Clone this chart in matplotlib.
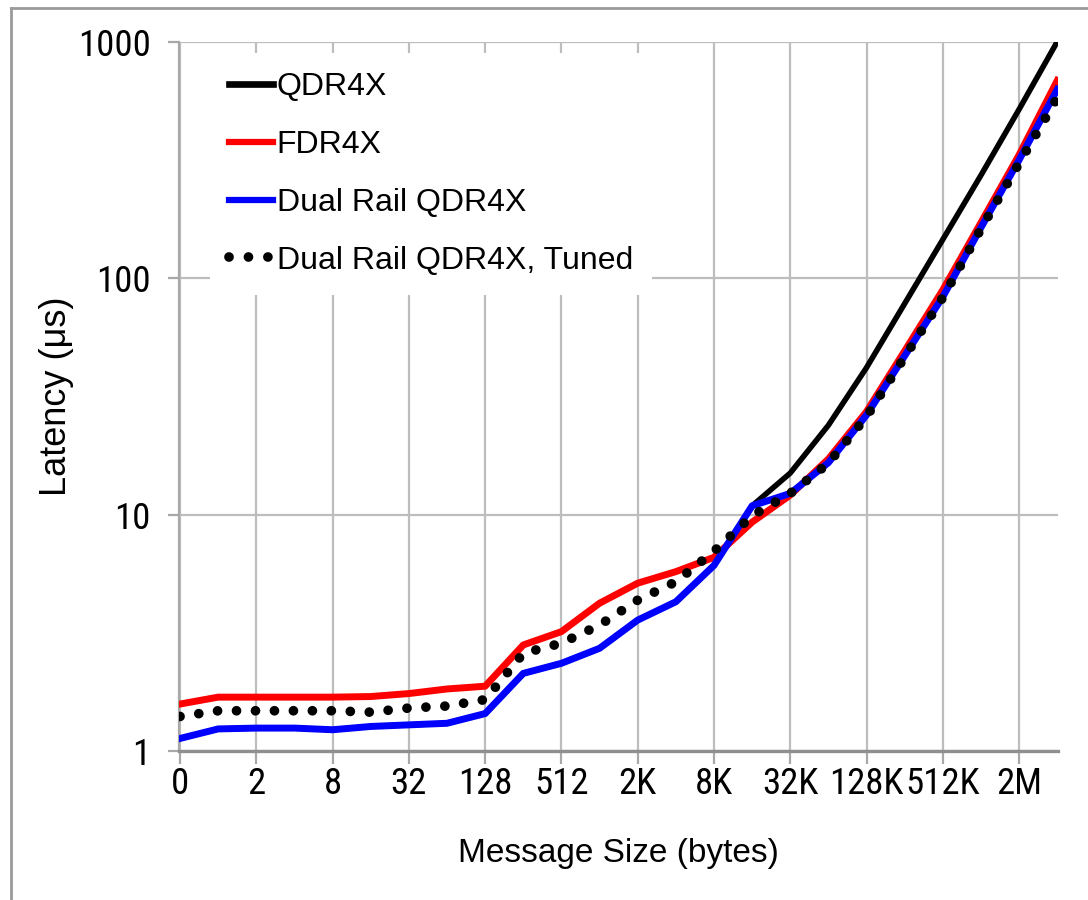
import matplotlib
matplotlib.use("Agg")
import matplotlib.pyplot as plt
from matplotlib.lines import Line2D
from matplotlib import font_manager as fm

# Message sizes (bytes) and measured latency (us)
sizes = ['0', '1', '2', '4', '8', '16', '32', '64', '128', '256', '512', '1K',
         '2K', '4K', '8K', '16K', '32K', '64K', '128K', '256K', '512K', '1M',
         '2M', '4M']

qdr4x = [1.13, 1.24, 1.25, 1.25, 1.23, 1.27, 1.29, 1.31, 1.44, 2.13, 2.35, 2.72,
         3.58, 4.28, 6.1, 10.9, 15.0, 23.9, 41.9, 78.2, 146, 273, 519, 1003]
fdr4x = [1.58, 1.69, 1.69, 1.69, 1.69, 1.70, 1.75, 1.83, 1.88, 2.81, 3.20, 4.22,
         5.13, 5.74, 6.6, 9.3, 12.1, 17.2, 27.3, 49.3, 89.3, 172, 333, 687]
dual_rail = [1.13, 1.24, 1.25, 1.25, 1.23, 1.27, 1.29, 1.31, 1.44, 2.13, 2.35, 2.72,
             3.58, 4.28, 6.1, 10.9, 12.3, 16.6, 26.4, 47.0, 83.5, 164, 317, 630]
dual_rail_tuned = [1.40, 1.48, 1.48, 1.48, 1.48, 1.46, 1.52, 1.55, 1.65, 2.59, 2.86,
                   3.41, 4.35, 5.20, 7.0, 9.9, 12.3, 16.5, 26.0, 46.5, 83.0, 162,
                   307, 580]

series_names = ['QDR4X', 'FDR4X', 'Dual Rail QDR4X', 'Dual Rail QDR4X, Tuned']

SANS = ['Liberation Sans', 'DejaVu Sans']
plt.rcParams['font.family'] = SANS


def narrow_font(size):
    """Pick a condensed sans face for the tick labels if one is installed."""
    entries = fm.fontManager.ttflist
    for name in ('Liberation Sans Narrow', 'Arial Narrow', 'Roboto Condensed',
                 'Open Sans Condensed', 'Noto Sans Condensed'):
        for f in entries:
            if f.name == name and f.style == 'normal' and f.weight in (400, 'normal', 'regular'):
                return fm.FontProperties(fname=f.fname, size=size)
    for fam in ('Liberation Sans', 'Noto Sans', 'Open Sans', 'Roboto', 'DejaVu Sans'):
        for f in entries:
            if (f.name == fam and f.style == 'normal' and 'condensed' in str(f.stretch)
                    and f.weight in (400, 'normal', 'regular')):
                return fm.FontProperties(fname=f.fname, size=size)
    return fm.FontProperties(family=SANS, size=size - 3)


tick_font = narrow_font(26.5)

fig = plt.figure(figsize=(10.88, 9.0), dpi=100)
ax = fig.add_axes([178.5 / 1088, 1 - 751 / 900, (1058 - 178.5) / 1088, (751 - 42) / 900])

x = list(range(len(sizes)))
grid_c = '#bdbdbd'
DOTS = (0, (0.001, 1.95))

ax.plot(x, qdr4x, color='black', lw=4.0, solid_joinstyle='round', zorder=3)
ax.plot(x, fdr4x, color='#ff0000', lw=5, solid_joinstyle='round', zorder=4)
ax.plot(x, dual_rail, color='#0000ff', lw=5, solid_joinstyle='round', zorder=5)
ax.plot(x, dual_rail_tuned, color='black', lw=7, linestyle=DOTS,
        dash_capstyle='round', zorder=6)

ax.set_yscale('log')
ax.set_ylim(1, 1000)
ax.set_xlim(-0.04, 23.02)
ax.set_yticks([1, 10, 100, 1000])
ax.set_yticklabels(['1', '10', '100', '1000'])
ax.yaxis.set_minor_locator(matplotlib.ticker.NullLocator())
ax.set_xticks(x[::2])
ax.set_xticklabels(sizes[::2])

for lab in ax.get_xticklabels() + ax.get_yticklabels():
    lab.set_fontproperties(tick_font)

ax.tick_params(axis='x', direction='out', length=9, width=1.6, color='#a8a8a8', pad=2)
ax.tick_params(axis='y', direction='out', length=8, width=1.6, color='#a8a8a8', pad=12)

ax.grid(True, which='major', color=grid_c, lw=1.6)
ax.set_axisbelow(True)
for side in ('top', 'right'):
    ax.spines[side].set_visible(False)
ax.spines['left'].set_color('#a8a8a8')
ax.spines['left'].set_linewidth(1.6)
ax.spines['bottom'].set_color('#8f8f8f')
ax.spines['bottom'].set_linewidth(2.4)

ax.set_xlabel('Message Size (bytes)', fontsize=24, labelpad=26)
ax.set_ylabel('Latency (\u03bcs)', fontsize=26, labelpad=3)

handles = [
    Line2D([], [], color='black', lw=4.8),
    Line2D([], [], color='#ff0000', lw=4.5),
    Line2D([], [], color='#0000ff', lw=4.5),
    Line2D([], [], color='black', lw=7, linestyle=(0, (0.001, 2.0)), dash_capstyle='round'),
]
leg = ax.legend(handles, series_names, loc='upper left',
                bbox_to_anchor=(31 / 879.5, 1 - 11 / 709), prop={'size': 23},
                frameon=True, fancybox=False, framealpha=1, facecolor='white',
                edgecolor='none', handlelength=1.38, handletextpad=0.12,
                labelspacing=0.87, borderpad=0.6, borderaxespad=0.0)
leg.set_zorder(10)

# light frame around the figure
frame_c = '#9a9a9a'
fig.add_artist(Line2D([11 / 1088, 11 / 1088], [0, 1 - 8 / 900], transform=fig.transFigure,
                      color=frame_c, lw=2))
fig.add_artist(Line2D([11 / 1088, 1], [1 - 8 / 900, 1 - 8 / 900], transform=fig.transFigure,
                      color=frame_c, lw=2))

fig.savefig('out.png', dpi=100, facecolor='white')
